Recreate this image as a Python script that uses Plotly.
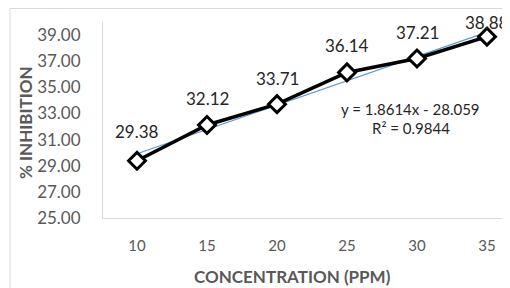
import numpy as np
import plotly.graph_objects as go

concentration = ["10", "15", "20", "25", "30", "35"]
inhibition = [29.38, 32.12, 33.71, 36.14, 37.21, 38.88]
y_ticks = [25, 27, 29, 31, 33, 35, 37, 39]
equation_text = "y = 1.8614x - 28.059"
r2_text = "R² = 0.9844"

label_shift = [29, 26, 26, 27, 26, 14]

idx = np.arange(len(inhibition))
slope, intercept = np.polyfit(idx, inhibition, 1)
trend = slope * idx + intercept

# the page body has an 8px margin, so the figure is drawn 8px right/down
OFF = 8
W, H = 510 - OFF, 288 - OFF
L, R, T, B = 103 - OFF, 0, 22 - OFF, 288 - 218
FONT = "Lato, 'Liberation Sans', sans-serif"
GRAY = "#595959"
pw = W - L - R
ph = H - T - B
step = 70.0
x0 = -(137 - 103) / step
x1 = x0 + pw / step


def px(sx):
    return (sx - OFF - L) / pw


def py(sy):
    return (H - (sy - OFF) - B) / ph


fig = go.Figure()
fig.add_trace(go.Scatter(
    x=idx, y=trend, mode="lines",
    line=dict(color="#5B9BD5", width=1.2), hoverinfo="skip", showlegend=False))
fig.add_trace(go.Scatter(
    x=idx, y=inhibition, mode="lines+markers",
    line=dict(color="black", width=3.5),
    marker=dict(symbol="diamond", size=13, color="white",
                line=dict(color="black", width=3)),
    showlegend=False))

for i, v in enumerate(inhibition):
    fig.add_annotation(x=i, y=v, text=f"{v:.2f}", showarrow=False,
                       yshift=label_shift[i], font=dict(family=FONT, size=17, color="#262626"))

fig.add_annotation(x=3.91, y=33.35, text=equation_text, showarrow=False,
                   font=dict(family=FONT, size=15, color="#262626"))
fig.add_annotation(x=3.91, y=31.85, text=r2_text, showarrow=False,
                   font=dict(family=FONT, size=15, color="#262626"))

# axis titles
fig.add_annotation(xref="paper", yref="paper", x=px(292), y=py(276),
                   text="<b>CONCENTRATION (PPM)</b>", showarrow=False,
                   xanchor="center", yanchor="middle",
                   font=dict(family=FONT, size=17, color=GRAY))
fig.add_annotation(xref="paper", yref="paper", x=px(25), y=py(123),
                   text="<b>% INHIBITION</b>", showarrow=False, textangle=-90,
                   xanchor="center", yanchor="middle",
                   font=dict(family=FONT, size=17, color=GRAY))

fig.add_shape(type="rect", xref="paper", yref="paper",
              x0=px(10), x1=px(520), y0=py(300), y1=py(8.5),
              line=dict(color="#D9D9D9", width=1), layer="below")

fig.update_layout(
    width=W, height=H,
    margin=dict(l=L, r=R, t=T, b=B),
    paper_bgcolor="white", plot_bgcolor="white",
    font=dict(family=FONT, color=GRAY),
    xaxis=dict(
        range=[x0, x1], tickmode="array", tickvals=list(idx), ticktext=concentration,
        showgrid=False, zeroline=False, showline=True, linecolor="#D9D9D9", linewidth=1,
        ticks="", tickfont=dict(family=FONT, size=15, color=GRAY), ticklabelstandoff=14,
        automargin=False),
    yaxis=dict(
        range=[25, 40], tickmode="array", tickvals=y_ticks,
        ticktext=[f"{t:.2f}" for t in y_ticks],
        showgrid=False, zeroline=False, showline=True, linecolor="#D9D9D9", linewidth=1,
        ticks="", tickfont=dict(family=FONT, size=17, color=GRAY), ticklabelstandoff=18,
        automargin=False),
)

fig.write_html("out.html")
